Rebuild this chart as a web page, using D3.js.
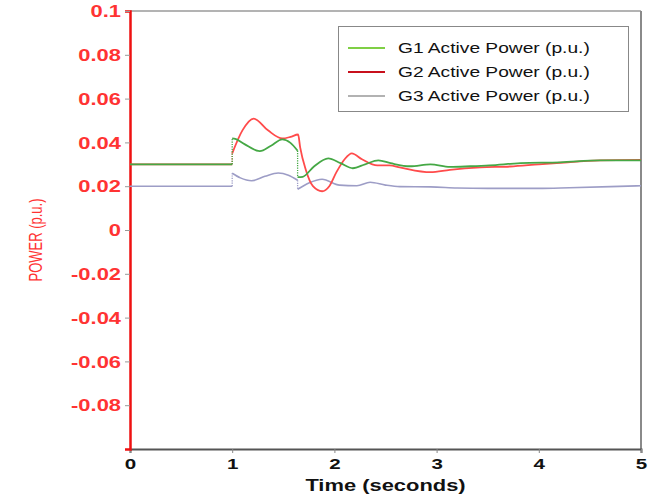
<!DOCTYPE html>
<html>
<head>
<meta charset="utf-8">
<script src="https://cdn.jsdelivr.net/npm/d3@7"></script>
<style>
  html, body { margin: 0; padding: 0; background: #fff; }
  svg { display: block; }
  text { font-family: "Liberation Sans", Arial, sans-serif; }
</style>
</head>
<body>
<svg id="chart" width="657" height="496"></svg>
<script>
// Generator active power after a disturbance (per unit)
const g1Time  = [0, 1.0, 1.0, 1.03, 1.12, 1.27, 1.38, 1.49, 1.57, 1.64, 1.64, 1.69, 1.8, 1.94, 2.06, 2.18, 2.3, 2.43, 2.55, 2.74, 2.94, 3.13, 3.33, 3.52, 3.82, 4.21, 4.6, 5.0];
const g1Power = [0.030, 0.030, 0.0418, 0.0416, 0.0392, 0.0360, 0.0385, 0.0414, 0.0398, 0.0362, 0.0241, 0.0243, 0.0290, 0.0327, 0.0305, 0.0282, 0.0300, 0.0318, 0.0305, 0.0291, 0.0300, 0.0288, 0.0291, 0.0295, 0.0305, 0.0309, 0.0318, 0.0318];

const g2Time  = [0, 1.0, 1.0, 1.1, 1.21, 1.35, 1.49, 1.57, 1.645, 1.665, 1.72, 1.79, 1.88, 1.95, 2.02, 2.1, 2.17, 2.27, 2.42, 2.54, 2.64, 2.94, 3.13, 3.43, 3.72, 4.0, 4.21, 4.6, 5.0];
const g2Power = [0.030, 0.030, 0.035, 0.0455, 0.0509, 0.0455, 0.0418, 0.0425, 0.0436, 0.0377, 0.0275, 0.0200, 0.0177, 0.0200, 0.0264, 0.0323, 0.0350, 0.0323, 0.0295, 0.0295, 0.0286, 0.0264, 0.0275, 0.0286, 0.0290, 0.0300, 0.0307, 0.0318, 0.0320];

const g3Time  = [0, 1.0, 1.0, 1.08, 1.19, 1.32, 1.45, 1.55, 1.64, 1.64, 1.75, 1.88, 2.05, 2.22, 2.35, 2.5, 2.64, 2.94, 3.2, 3.5, 4.0, 4.3, 4.7, 5.0];
const g3Power = [0.020, 0.020, 0.0259, 0.0238, 0.0225, 0.0245, 0.0260, 0.0250, 0.0227, 0.0186, 0.0215, 0.0232, 0.0205, 0.0202, 0.0218, 0.0205, 0.0198, 0.0197, 0.0192, 0.0190, 0.0190, 0.0193, 0.0198, 0.0202];

const seriesNames = ["G1 Active Power (p.u.)", "G2 Active Power (p.u.)", "G3 Active Power (p.u.)"];
const yTickValues = [0.1, 0.08, 0.06, 0.04, 0.02, 0, -0.02, -0.04, -0.06, -0.08];
const yTickLabels = ["0.1", "0.08", "0.06", "0.04", "0.02", "0", "-0.02", "-0.04", "-0.06", "-0.08"];
const xTickValues = [0, 1, 2, 3, 4, 5];

const svg = d3.select("#chart");
const stretch = 1.37; // text is drawn wide

const x = d3.scaleLinear().domain([0, 5]).range([130, 641]);
const y = d3.scaleLinear().domain([-0.1, 0.1]).range([449, 11]);

// frame: top and right borders
svg.append("line").attr("x1", x(0)).attr("x2", x(5)).attr("y1", y(0.1)).attr("y2", y(0.1))
  .attr("stroke", "#9a9a9a").attr("stroke-width", 1.5);
svg.append("line").attr("x1", x(5)).attr("x2", x(5)).attr("y1", y(0.1)).attr("y2", y(-0.1))
  .attr("stroke", "#8a8a8a").attr("stroke-width", 2);

// x axis
const xAxis = svg.append("g").attr("transform", `translate(0,${y(-0.1)})`)
  .call(d3.axisBottom(x).tickValues(xTickValues).tickSize(4).tickFormat(""));
xAxis.select(".domain").attr("stroke", "#555").attr("stroke-width", 2);
xAxis.selectAll(".tick line").attr("stroke", "#888");
xAxis.selectAll(".tick").append("g")
  .attr("transform", `translate(0,20) scale(${stretch},1)`)
  .append("text")
  .attr("text-anchor", "middle").attr("font-size", 15).attr("font-weight", "bold")
  .attr("fill", "#111").text(d => d3.format("d")(d));

svg.append("g").attr("transform", `translate(${x(2.5)},491) scale(${stretch},1)`)
  .append("text").attr("text-anchor", "middle").attr("font-size", 16).attr("font-weight", "bold")
  .attr("fill", "#111").text("Time (seconds)");

// y axis
const yAxis = svg.append("g").attr("transform", `translate(${x(0)},0)`)
  .call(d3.axisLeft(y).tickValues(yTickValues).tickSize(5).tickFormat(""));
yAxis.select(".domain").attr("stroke", "#ee1111").attr("stroke-width", 2.5);
yAxis.selectAll(".tick line").attr("stroke", "#999");
yAxis.selectAll(".tick").append("g")
  .attr("transform", `translate(-9,0) scale(${stretch},1)`)
  .append("text")
  .attr("text-anchor", "end").attr("dy", "0.36em").attr("font-size", 16).attr("font-weight", "bold")
  .attr("fill", "#ff3333").text((d, i) => yTickLabels[i]);

svg.append("g").attr("transform", `translate(42,240) scale(${stretch},1) rotate(-90)`)
  .append("text").attr("text-anchor", "middle").attr("font-size", 13)
  .attr("fill", "#ff3333").text("POWER (p.u.)");

// series: solid runs joined by dotted steps where the time repeats
const series = [
  { t: g3Time, v: g3Power, color: "#9d9dc6", width: 1.6 },
  { t: g2Time, v: g2Power, color: "#ff4b4b", width: 1.8 },
  { t: g1Time, v: g1Power, color: "#45a845", width: 1.8 }
];

const lineGen = d3.line().x(d => x(d[0])).y(d => y(d[1])).curve(d3.curveMonotoneX);
const plot = svg.append("g").attr("filter", "url(#soft)");
svg.append("defs").append("filter").attr("id", "soft")
  .append("feGaussianBlur").attr("stdDeviation", 0.35);

series.forEach(s => {
  const runs = [[]];
  const steps = [];
  s.t.forEach((t, i) => {
    if (i > 0 && t === s.t[i - 1]) {
      steps.push([[t, s.v[i - 1]], [t, s.v[i]]]);
      runs.push([]);
    }
    runs[runs.length - 1].push([t, s.v[i]]);
  });
  runs.forEach(r => {
    plot.append("path").attr("d", lineGen(r)).attr("fill", "none")
      .attr("stroke", s.color).attr("stroke-width", s.width).attr("stroke-linejoin", "round");
  });
  steps.forEach(st => {
    plot.append("line")
      .attr("x1", x(st[0][0])).attr("x2", x(st[1][0]))
      .attr("y1", y(st[0][1])).attr("y2", y(st[1][1]))
      .attr("stroke", s.color).attr("stroke-width", 1.3).attr("stroke-dasharray", "1.2,1.2");
  });
});

// legend
const legend = svg.append("g");
legend.append("rect").attr("x", 338.5).attr("y", 26.5).attr("width", 290).attr("height", 85)
  .attr("fill", "#fff").attr("stroke", "#888").attr("stroke-width", 1);
const legendColors = ["#7fcf45", "#c8101c", "#666"];
const legendWidths = [2.2, 2.2, 1.2];
seriesNames.forEach((name, i) => {
  const ly = 48 + i * 24;
  legend.append("line").attr("x1", 348).attr("x2", 385).attr("y1", ly).attr("y2", ly)
    .attr("stroke", legendColors[i]).attr("stroke-width", legendWidths[i]);
  legend.append("g").attr("transform", `translate(398,${ly}) scale(${stretch},1)`)
    .append("text").attr("dy", "0.36em").attr("font-size", 14).attr("fill", "#111").text(name);
});
</script>
</body>
</html>
